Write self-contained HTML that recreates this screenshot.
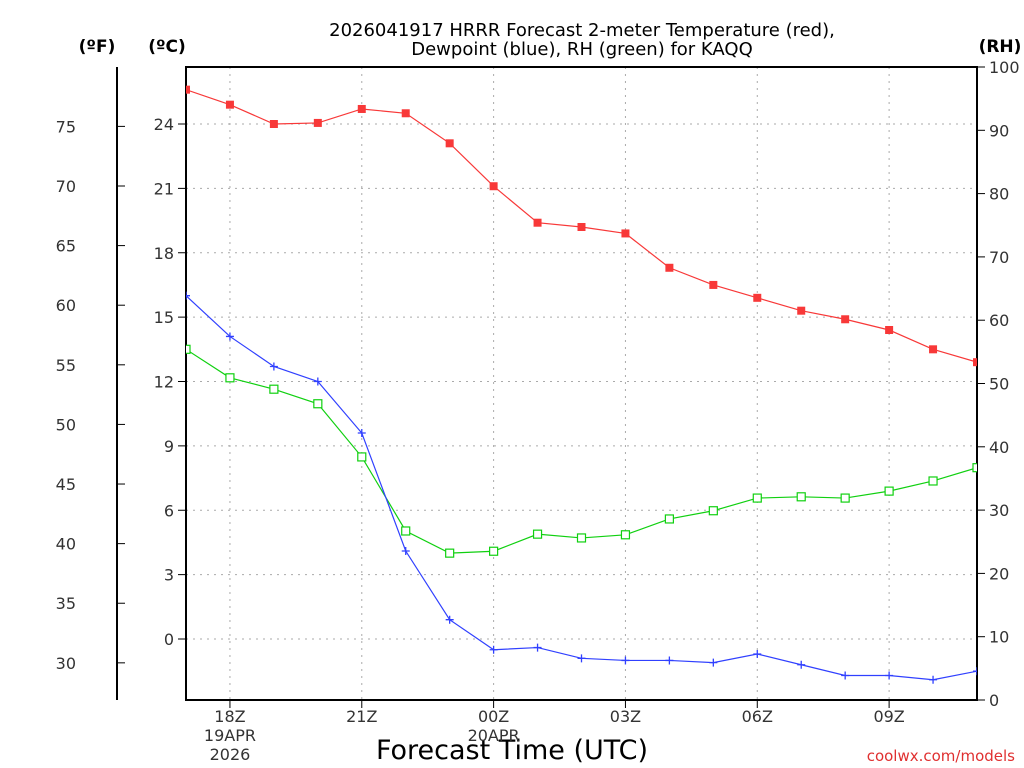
<!DOCTYPE html>
<html><head><meta charset="utf-8"><style>
body{margin:0;background:#fff;}
svg{display:block;font-family:"DejaVu Sans","Liberation Sans",sans-serif;}
</style></head><body>
<svg id="c" width="1024" height="768">
<text x="582" y="36" font-size="18" text-anchor="middle">2026041917 HRRR Forecast 2-meter Temperature (red),</text>
<text x="582" y="55" font-size="18" text-anchor="middle">Dewpoint (blue), RH (green) for KAQQ</text>
<text x="97" y="52" font-size="17" font-weight="bold" text-anchor="middle">(ºF)</text>
<text x="167" y="52" font-size="17" font-weight="bold" text-anchor="middle">(ºC)</text>
<text x="1000" y="52" font-size="17" font-weight="bold" text-anchor="middle">(RH)</text>
<text x="512" y="759" font-size="27" text-anchor="middle">Forecast Time (UTC)</text>
<text x="1015" y="761" font-size="15" fill="#e03030" text-anchor="end">coolwx.com/models</text>
<g id="grid"></g><g id="axes"></g><g id="series"></g>
</svg>
<script>
const hours=[17,18,19,20,21,22,23,0,1,2,3,4,5,6,7,8,9,10,11];
const tempC=[25.6,24.9,24.0,24.05,24.7,24.5,23.1,21.1,19.4,19.2,18.9,17.3,16.5,15.9,15.3,14.9,14.4,13.5,12.9];
const dewC=[16.0,14.1,12.7,12.0,9.6,4.1,0.9,-0.5,-0.4,-0.9,-1.0,-1.0,-1.1,-0.7,-1.2,-1.7,-1.7,-1.9,-1.5];
const rh=[55.4,50.9,49.1,46.8,38.4,26.7,23.2,23.5,26.2,25.6,26.1,28.6,29.9,31.9,32.1,31.9,33.0,34.6,36.7];
const cTicks=[0,3,6,9,12,15,18,21,24];
const fTicks=[30,35,40,45,50,55,60,65,70,75];
const rhTicks=[0,10,20,30,40,50,60,70,80,90,100];
const xLabels=[{i:1,t:["18Z","19APR","2026"]},{i:4,t:["21Z"]},{i:7,t:["00Z","20APR"]},{i:10,t:["03Z"]},{i:13,t:["06Z"]},{i:16,t:["09Z"]}];
const NS="http://www.w3.org/2000/svg";
const L=186,R=977,T=67,B=700;
const xs=i=>L+i*(R-L)/18;
const yC=c=>639-c*(639-124)/24;
const yF=f=>yC((f-32)*5/9);
const yRH=r=>B-r*(B-T)/100;
function mk(p,tag,a){const e=document.createElementNS(NS,tag);for(const k in a)e.setAttribute(k,a[k]);p.appendChild(e);return e;}
const g=document.getElementById('grid'),ax=document.getElementById('axes'),s=document.getElementById('series');
cTicks.forEach(c=>{const y=yC(c);
 const l=mk(g,'line',{x1:L,x2:R,y1:y,y2:y,stroke:'#aaa','stroke-dasharray':'2,5'});
 
 mk(ax,'line',{x1:L-8,x2:L,y1:y,y2:y,stroke:'#000'});
 const t=mk(ax,'text',{x:L-12,y:y+6,'font-size':16,'text-anchor':'end',fill:'#333'});t.textContent=c;
 });
fTicks.forEach(f=>{const y=yF(f);
 mk(ax,'line',{x1:117,x2:125,y1:y,y2:y,stroke:'#000'});
 const t=mk(ax,'text',{x:76,y:y+6,'font-size':16,'text-anchor':'end',fill:'#333'});t.textContent=f;
 });
rhTicks.forEach(r=>{const y=yRH(r);
 mk(ax,'line',{x1:R,x2:R+8,y1:y,y2:y,stroke:'#000'});
 const t=mk(ax,'text',{x:R+12,y:y+6,'font-size':16,fill:'#333'});t.textContent=r;
 });
xLabels.forEach(o=>{const x=xs(o.i);
 const l=mk(g,'line',{x1:x,x2:x,y1:T,y2:B,stroke:'#aaa','stroke-dasharray':'2,5'});
 
 mk(ax,'line',{x1:x,x2:x,y1:B,y2:B+8,stroke:'#000'});
 o.t.forEach((tt,k)=>{const t=mk(ax,'text',{x:x,y:722+k*19,'font-size':16,'text-anchor':'middle',fill:'#333'});t.textContent=tt;
 });});
const fr=mk(ax,'rect',{x:L,y:T,width:R-L,height:B-T,fill:'none',stroke:'#000','stroke-width':2});

mk(ax,'line',{x1:117,x2:117,y1:T,y2:B,stroke:'#000','stroke-width':2});
function series(vals,yf,col,kind,name){
 const gg=mk(s,'g',{});
 mk(gg,'polyline',{points:vals.map((v,i)=>xs(i)+','+yf(v)).join(' '),fill:'none',stroke:col,'stroke-width':1.2});
 vals.forEach((v,i)=>{const x=xs(i),y=yf(v);let m;
  if(kind==='fill')m=mk(gg,'rect',{x:x-4,y:y-4,width:8,height:8,fill:col});
  else if(kind==='open')m=mk(gg,'rect',{x:x-4,y:y-4,width:8,height:8,fill:'#fff',stroke:col,'stroke-width':1.2});
  else m=mk(gg,'path',{d:`M${x-4},${y}H${x+4}M${x},${y-4}V${y+4}`,stroke:col,'stroke-width':1.3});
  });}
const clip=mk(s,'clipPath',{id:'cp'});mk(clip,'rect',{x:L,y:T,width:R-L,height:B-T});
s.setAttribute('clip-path','url(#cp)');
series(rh,yRH,'#10d010','open','rh-series');
series(dewC,yC,'#3040ff','plus','dewpoint-series');
series(tempC,yC,'#f83838','fill','temperature-series');
</script>
</body></html>
